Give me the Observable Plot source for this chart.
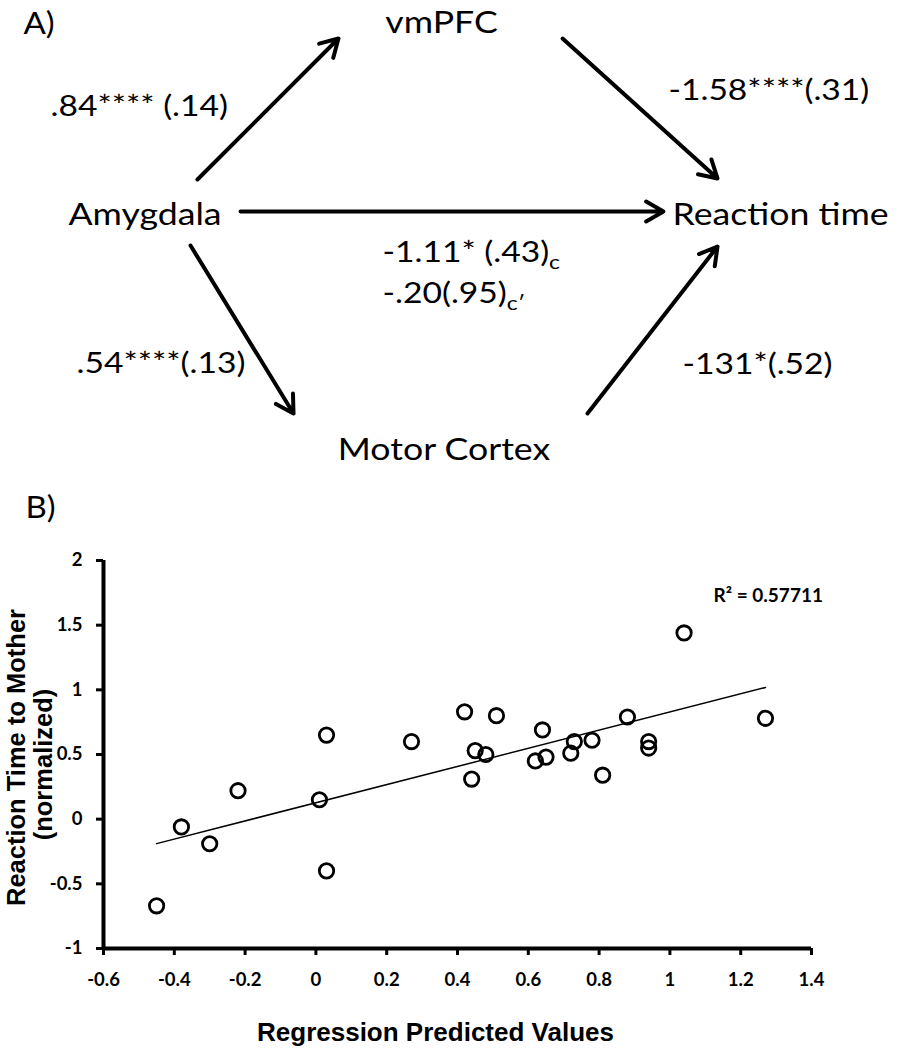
<!DOCTYPE html>
<html><head><meta charset="utf-8">
<script src="https://cdn.jsdelivr.net/npm/d3@7"></script>
<script src="https://cdn.jsdelivr.net/npm/@observablehq/plot@0.6"></script>
<style>
html,body{margin:0;padding:0;background:#fff;}
#fig{width:901px;}
#fig svg{display:block;}
</style></head><body><div id="fig"></div>
<script>
// ---------- Panel A: mediation model (data) ----------
const nodeNames = ["vmPFC", "Amygdala", "Reaction time", "Motor Cortex"];
const pathFrom = ["Amygdala", "vmPFC", "Amygdala", "Amygdala", "Motor Cortex"];
const pathTo = ["vmPFC", "Reaction time", "Reaction time", "Motor Cortex", "Reaction time"];
const coefLabels = [".84**** (.14)", "-1.58****(.31)", "-1.11* (.43)", "-.20(.95)", ".54****(.13)", "-131*(.52)"];
const coefSubscripts = ["", "", "c", "c′", "", ""];

// ---------- Panel B: scatter (data) ----------
const predicted = [-0.45, -0.38, -0.30, -0.22, 0.01, 0.03, 0.03, 0.27, 0.42, 0.44, 0.45, 0.48, 0.51,
  0.64, 0.62, 0.65, 0.72, 0.73, 0.78, 0.81, 0.88, 0.94, 0.94, 1.04, 1.27];
const reactionTime = [-0.67, -0.06, -0.19, 0.22, 0.15, 0.65, -0.40, 0.60, 0.83, 0.31, 0.53, 0.50, 0.80,
  0.69, 0.45, 0.48, 0.51, 0.60, 0.61, 0.34, 0.79, 0.60, 0.55, 1.44, 0.78];
const xTicks = [-0.6, -0.4, -0.2, 0, 0.2, 0.4, 0.6, 0.8, 1, 1.2, 1.4];
const yTicks = [-1, -0.5, 0, 0.5, 1, 1.5, 2];
const rSquaredLabel = "R² = 0.57711";
const xTitle = "Regression Predicted Values";
const yTitleLines = ["Reaction Time to Mother", "(normalized)"];
const panelLabels = ["A)", "B)"];

// ---------- Diagram layout (in diagram units, 0–100 each way) ----------
const nodeLayout = {
  "vmPFC": {x: 48.95, y: 6.67, anchor: "middle"},
  "Amygdala": {x: 7.55, y: 46.67, anchor: "start"},
  "Reaction time": {x: 74.58, y: 46.67, anchor: "start"},
  "Motor Cortex": {x: 49.22, y: 95.83, anchor: "middle"}
};
const arrowLayout = [
  {x1: 21.86, y1: 37.29, x2: 37.51, y2: 7.92},
  {x1: 62.38, y1: 7.92, x2: 79.58, y2: 37.08},
  {x1: 26.64, y1: 43.96, x2: 73.58, y2: 43.96},
  {x1: 21.09, y1: 51.04, x2: 32.52, y2: 86.04},
  {x1: 65.15, y1: 86.04, x2: 79.58, y2: 51.25}
];
const coefLayout = [
  {x: 5.55, y: 23.96}, {x: 74.14, y: 20.83}, {x: 42.40, y: 54.58},
  {x: 42.40, y: 62.92}, {x: 8.44, y: 77.5}, {x: 75.69, y: 77.71}
];

const nodeRows = nodeNames.map(name => ({name, ...nodeLayout[name]}));
const edgeRows = pathFrom.map((from, i) => ({from, to: pathTo[i], ...arrowLayout[i]}));
const coefRows = coefLabels.map((label, i) => ({label, sub: coefSubscripts[i], ...coefLayout[i]}));

// styles
const A_FONT = "Lato, sans-serif";
const TITLE_FONT = "Liberation Sans, Arial, sans-serif";
const NODE_SIZE = 31, COEF_SIZE = 28, SUB_SIZE = 19, PANEL_SIZE = 30;
const NODE_STRETCH = 1.15, COEF_STRETCH = 1.2, PANEL_STRETCH = 1.1;

const panelA = Plot.plot({
  width: 901, height: 480, margin: 0,
  x: {domain: [0, 100], range: [0, 901], axis: null},
  y: {domain: [0, 100], range: [0, 480], axis: null},
  style: {fontFamily: A_FONT, background: "white", overflow: "visible", color: "black"},
  marks: [
    Plot.arrow(edgeRows, {x1: "x1", y1: "y1", x2: "x2", y2: "y2", stroke: "black", strokeWidth: 4, headLength: 7.5, headAngle: 60}),
    Plot.text(nodeRows.filter(d => d.anchor === "middle"), {x: "x", y: "y", text: "name", textAnchor: "middle", lineAnchor: "bottom", fontSize: NODE_SIZE, fill: "black"}),
    Plot.text(nodeRows.filter(d => d.anchor === "start"), {x: "x", y: "y", text: "name", textAnchor: "start", lineAnchor: "bottom", fontSize: NODE_SIZE, fill: "black"}),
    Plot.text(coefRows, {x: "x", y: "y", text: "label", textAnchor: "start", lineAnchor: "bottom", fontSize: COEF_SIZE, fill: "black"}),
    Plot.text([panelLabels[0]], {frameAnchor: "top-left", dx: 23, dy: 33, textAnchor: "start", lineAnchor: "bottom", fontSize: PANEL_SIZE, fill: "black"})
  ]
});

// subscripts (c, c′) attached to the end of their coefficient text
panelA.querySelectorAll("text").forEach(t => {
  const row = coefRows.find(r => r.label === t.textContent && r.sub);
  if (row) {
    const ts = document.createElementNS("http://www.w3.org/2000/svg", "tspan");
    ts.setAttribute("dy", "7");
    ts.setAttribute("font-size", String(SUB_SIZE));
    ts.textContent = row.sub;
    t.appendChild(ts);
  }
});

const points = predicted.map((x, i) => ({x, y: reactionTime[i]}));
const fmt = d => String(d);
const panelB = Plot.plot({
  width: 901, height: 570,
  marginTop: 80, marginBottom: 102, marginLeft: 103, marginRight: 90,
  x: {domain: [-0.6, 1.4]},
  y: {domain: [-1, 2]},
  style: {fontFamily: "Lato, sans-serif", fontWeight: "bold", background: "white", overflow: "visible", color: "black"},
  marks: [
    Plot.axisX({ticks: xTicks, tickFormat: fmt, tickSize: 7, tickPadding: 17, strokeWidth: 3, fontSize: 18.5, fontWeight: "bold", label: null}),
    Plot.axisY({ticks: yTicks, tickFormat: fmt, tickSize: 7, tickPadding: 14, strokeWidth: 3, fontSize: 18.5, fontWeight: "bold", label: null}),
    Plot.ruleY([-1], {stroke: "black", strokeWidth: 4}),
    Plot.ruleX([-0.6], {stroke: "black", strokeWidth: 4}),
    Plot.linearRegressionY(points, {x: "x", y: "y", ci: 0, stroke: "black", strokeWidth: 1.5}),
    Plot.dot(points, {x: "x", y: "y", r: 7.2, stroke: "black", strokeWidth: 2.8, fill: "none"}),
    Plot.text([rSquaredLabel], {frameAnchor: "top-right", dx: -98, dy: 41, textAnchor: "start", lineAnchor: "bottom", fontSize: 19, fontWeight: "bold", fill: "black"}),
    Plot.text([yTitleLines[0]], {frameAnchor: "left", dx: -87, dy: 3, rotate: -90, textAnchor: "middle", lineAnchor: "middle", fontSize: 25.5, fontFamily: TITLE_FONT, fontWeight: "bold", fill: "black"}),
    Plot.text([yTitleLines[1]], {frameAnchor: "left", dx: -60, dy: 10, rotate: -90, textAnchor: "middle", lineAnchor: "middle", fontSize: 25.5, fontFamily: TITLE_FONT, fontWeight: "bold", fill: "black"}),
    Plot.text([xTitle], {frameAnchor: "bottom", dx: -22, dy: 92, textAnchor: "middle", lineAnchor: "bottom", fontSize: 26, fontFamily: TITLE_FONT, fontWeight: "bold", fill: "black"}),
    Plot.text([panelLabels[1]], {frameAnchor: "top-left", dx: -78, dy: -43, textAnchor: "start", lineAnchor: "bottom", fontSize: PANEL_SIZE, fontWeight: "normal", fill: "black"})
  ]
});

const fig = document.getElementById("fig");
fig.appendChild(panelA);
fig.appendChild(panelB);

// the original figure is slightly widened horizontally: mimic it on the diagram text
function stretch(svg, texts, factor) {
  svg.querySelectorAll("text").forEach(t => {
    const plain = t.firstChild && t.firstChild.nodeType === 3 ? t.firstChild.nodeValue : t.textContent;
    if (texts.includes(plain)) {
      const len = t.getComputedTextLength();
      t.setAttribute("textLength", (len * factor).toFixed(1));
      t.setAttribute("lengthAdjust", "spacingAndGlyphs");
    }
  });
}
stretch(panelA, nodeNames, NODE_STRETCH);
stretch(panelA, coefLabels, COEF_STRETCH);
stretch(panelA, [panelLabels[0]], PANEL_STRETCH);
stretch(panelB, [panelLabels[1]], PANEL_STRETCH);
</script>
</body></html>
